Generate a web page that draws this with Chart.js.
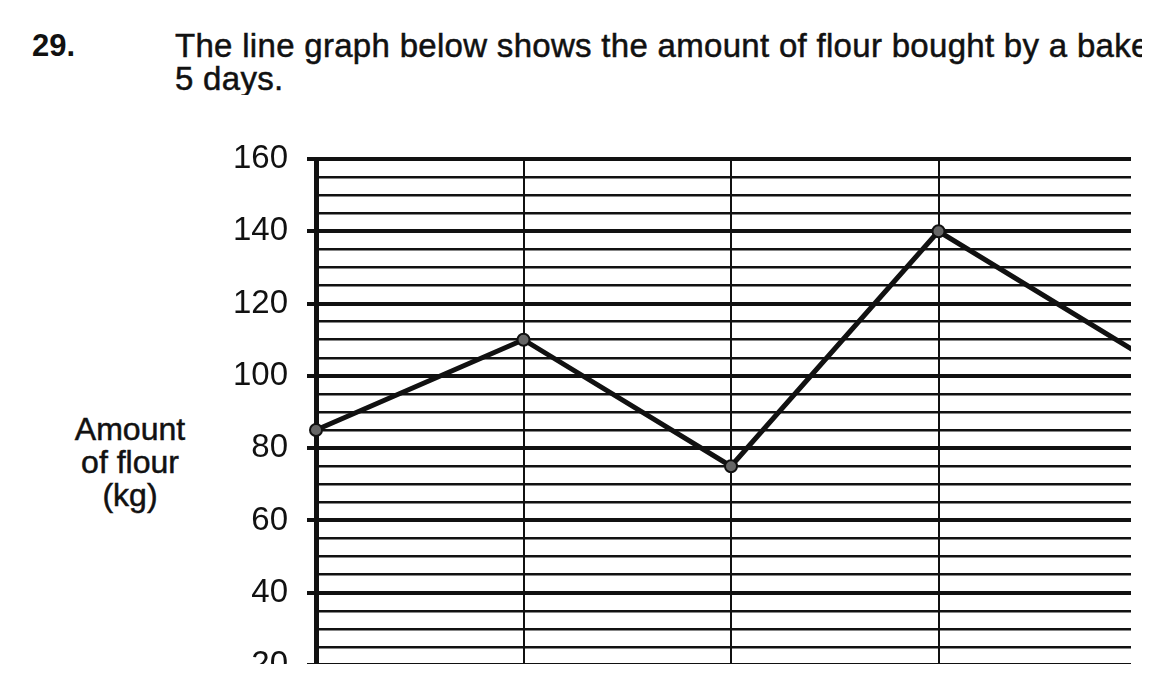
<!DOCTYPE html>
<html>
<head>
<meta charset="utf-8">
<script src="https://cdn.jsdelivr.net/npm/chart.js@4.4.1/dist/chart.umd.min.js"></script>
<style>
  body { margin: 0; background: #fff; width: 1155px; height: 690px; overflow: hidden; position: relative; font-family: "Liberation Sans", Arial, sans-serif; color: #111; }
  .txt { position: absolute; font-size: 33px; line-height: 33px; white-space: nowrap; -webkit-text-stroke: 0.5px #111; }
  .num { left: 32px; top: 29px; font-size: 31px; font-weight: bold; -webkit-text-stroke: 0; }
  .frase { left: 175px; top: 29px; width: 967px; overflow: hidden; letter-spacing: 0.3px; }
  .asse { left: 60px; top: 413px; width: 140px; font-size: 32px; text-align: center; white-space: normal; }
  .grafico { position: absolute; left: 0; top: 0; width: 1131px; height: 664px; overflow: hidden; }
  canvas { position: absolute; left: 0; top: 0; }
</style>
</head>
<body>
<div class="txt num">29.</div>
<div class="txt frase">The line graph below shows the amount of flour bought by a baker in<br>5 days.</div>
<div class="txt asse">Amount<br>of flour<br>(kg)</div>
<div class="grafico"><canvas id="canvas" width="1200" height="720"></canvas></div>

<script>
// dati (il giorno 5 esce dal bordo)
const giorni = ["Day 1", "Day 2", "Day 3", "Day 4", "Day 5"];
const farina = [85, 110, 75, 140, 105];
const etichetteY = [20, 40, 60, 80, 100, 120, 140, 160];

const nero = "#111";

// linee principali (ogni 20) piu' spesse e con la tacca a sinistra
function principale(ctx) {
  return ctx.tick && etichetteY.includes(ctx.tick.value);
}

const grafico = new Chart("canvas", {
  type: "line",
  data: {
    labels: giorni,
    datasets: [{
      data: farina,
      borderColor: nero,
      borderWidth: 5,
      pointRadius: 6,
      pointBackgroundColor: "#666",
      pointBorderColor: nero,
      pointBorderWidth: 2,
      tension: 0,
      clip: false
    }]
  },
  options: {
    responsive: false,
    animation: false,
    layout: { padding: { top: 159, right: 54, bottom: 55, left: 0 } },
    plugins: { legend: { display: false }, tooltip: { enabled: false } },
    scales: {
      x: {
        offset: false,
        ticks: { display: false },
        grid: { color: nero, lineWidth: 2, drawTicks: false },
        border: { display: false },
        afterFit: (scale) => { scale.height = 0; }
      },
      y: {
        min: 20,
        max: 160,
        ticks: {
          stepSize: 5,
          maxTicksLimit: 100,
          autoSkip: false,
          padding: 19,
          color: nero,
          font: { family: "'Liberation Sans', Arial, sans-serif", size: 33 },
          callback: (v) => etichetteY.includes(v) ? String(v) : ""
        },
        grid: {
          color: nero,
          lineWidth: (ctx) => principale(ctx) ? 4 : 2.5,
          tickLength: 9,
          tickColor: (ctx) => principale(ctx) ? nero : "rgba(0,0,0,0)"
        },
        border: { color: nero, width: 5 },
        afterFit: (scale) => { scale.width = 316; }
      }
    }
  }
});
</script>
</body>
</html>
